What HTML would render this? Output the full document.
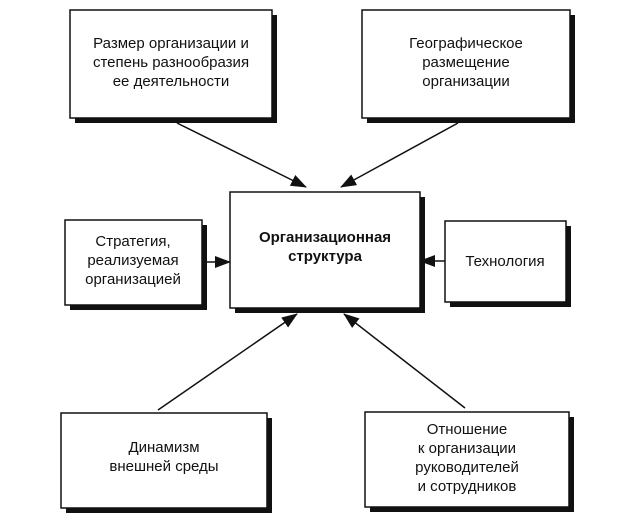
<!DOCTYPE html>
<html><head><meta charset="utf-8"><style>
html,body{margin:0;padding:0;background:#fff;}
svg{display:block;}
text{font-family:"Liberation Sans",sans-serif;font-size:15px;fill:#111;text-anchor:middle;}
</style></head><body>
<svg width="624" height="518" viewBox="0 0 624 518">
<defs><marker id="a" markerWidth="10" markerHeight="8" refX="9" refY="4" orient="auto" markerUnits="userSpaceOnUse"><path d="M0,0 L10,4 L0,8 Z" fill="#111" transform="scale(1.6) translate(-4,-1.5)"/></marker>
<marker id="b" viewBox="0 0 16 12" markerWidth="16" markerHeight="12" refX="15" refY="6" orient="auto" markerUnits="userSpaceOnUse"><path d="M0,0 L16,6 L0,12 Z" fill="#111"/></marker></defs>
<g fill="#111">
<rect x="75" y="15" width="202" height="108"/>
<rect x="367" y="15" width="208" height="108"/>
<rect x="235" y="197" width="190" height="116"/>
<rect x="70" y="225" width="137" height="85"/>
<rect x="450" y="226" width="121" height="81"/>
<rect x="66" y="418" width="206" height="95"/>
<rect x="370" y="417" width="204" height="95"/>
</g>
<g fill="#fff" stroke="#111" stroke-width="1.5">
<rect x="70" y="10" width="202" height="108"/>
<rect x="362" y="10" width="208" height="108"/>
<rect x="230" y="192" width="190" height="116"/>
<rect x="65" y="220" width="137" height="85"/>
<rect x="445" y="221" width="121" height="81"/>
<rect x="61" y="413" width="206" height="95"/>
<rect x="365" y="412" width="204" height="95"/>
</g>
<g stroke="#111" stroke-width="1.5" marker-end="url(#b)">
<line x1="177" y1="123" x2="306" y2="187"/>
<line x1="458" y1="123" x2="341" y2="187"/>
<line x1="202" y1="262" x2="230" y2="262"/>
<line x1="445" y1="261" x2="420" y2="261"/>
<line x1="158" y1="410" x2="297" y2="314"/>
<line x1="465" y1="408" x2="344" y2="314"/>
</g>
<text x="171" y="48">Размер организации и</text>
<text x="171" y="67">степень разнообразия</text>
<text x="171" y="86">ее деятельности</text>
<text x="466" y="48">Географическое</text>
<text x="466" y="67">размещение</text>
<text x="466" y="86">организации</text>
<text x="325" y="242" font-weight="bold">Организационная</text>
<text x="325" y="261" font-weight="bold">структура</text>
<text x="133" y="246">Стратегия,</text>
<text x="133" y="265">реализуемая</text>
<text x="133" y="284">организацией</text>
<text x="505" y="266">Технология</text>
<text x="164" y="452">Динамизм</text>
<text x="164" y="471">внешней среды</text>
<text x="467" y="434">Отношение</text>
<text x="467" y="453">к организации</text>
<text x="467" y="472">руководителей</text>
<text x="467" y="491">и сотрудников</text>
</svg>
</body></html>
